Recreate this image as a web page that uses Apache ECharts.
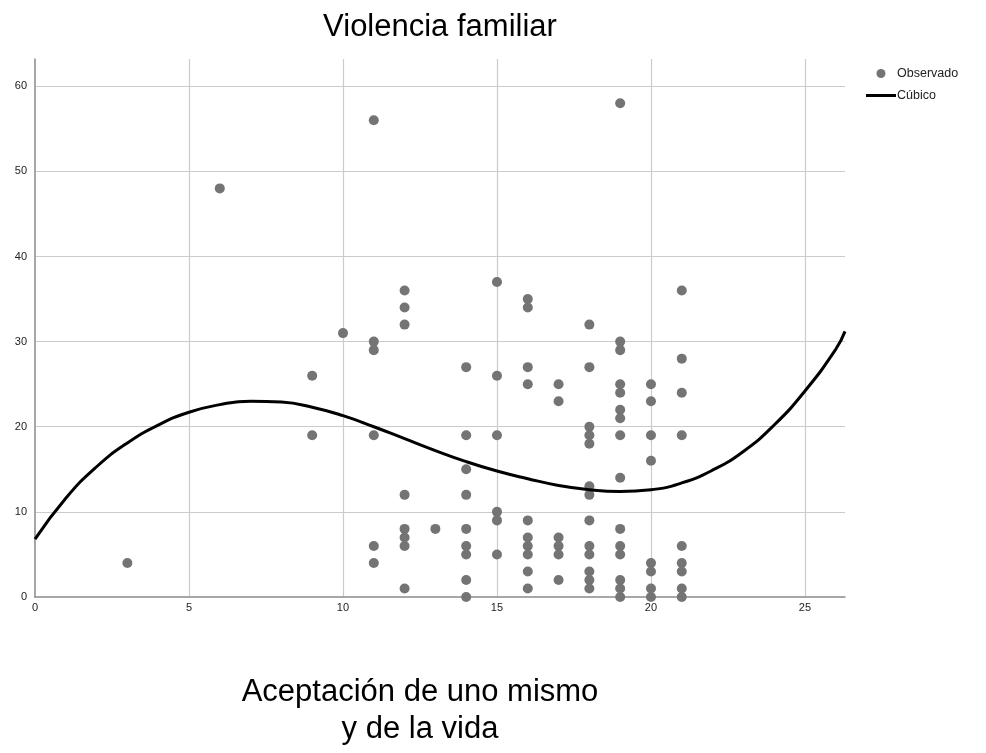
<!DOCTYPE html>
<html>
<head>
<meta charset="utf-8">
<script src="https://cdn.jsdelivr.net/npm/echarts@6/dist/echarts.min.js"></script>
<style>html,body{margin:0;padding:0;background:#fff;}#chart{width:986px;height:753px;}</style>
</head>
<body>
<div id="chart"></div>
<script>
// Observed points (x = Aceptación de uno mismo y de la vida, y = Violencia familiar)
const obsX = [3, 6, 9,9, 10,
  11,11,11,11,11,11,
  12,12,12,12,12,12,12,12,
  13,
  14,14,14,14,14,14,14,14,14,
  15,15,15,15,15,15,
  16,16,16,16,16,16,16,16,16,16,
  17,17,17,17,17,17,
  18,18,18,18,18,18,18,18,18,18,18,18,18,
  19,19,19,19,19,19,19,19,19,19,19,19,19,19,19,
  20,20,20,20,20,20,20,20,
  21,21,21,21,21,21,21,21,21];
const obsY = [4, 48, 26,19, 31,
  56,30,29,19,6,4,
  36,34,32,12,8,7,6,1,
  8,
  27,19,15,12,8,6,5,2,0,
  37,26,19,10,9,5,
  35,34,27,25,9,7,6,5,3,1,
  25,23,7,6,5,2,
  32,27,20,19,18,13,12,9,6,5,3,2,1,
  58,30,29,25,24,22,21,19,14,8,6,5,2,1,0,
  25,23,19,16,4,3,1,0,
  36,28,24,19,6,4,3,1,0];

// Cubic fit curve
const curveX = [0,1,2,3,4,5,6,7,8,9,10,11,12,13,14,15,16,17,18,19,20,21,22,23,24,25,26,26.3];
const curveY = [6.8,11.6,15.3,18.1,20.2,21.7,22.6,23.0,22.9,22.3,21.3,20.0,18.6,17.2,15.9,14.8,13.9,13.1,12.6,12.4,12.6,13.4,14.9,17.1,20.2,24.2,29.1,31.2];

const xTicks = [0, 5, 10, 15, 20, 25];
const yTicks = [0, 10, 20, 30, 40, 50, 60];

const seriesNames = ['Observado', 'Cúbico'];
const chartTitle = 'Violencia familiar';
const xTitle = 'Aceptación de uno mismo\ny de la vida';

const chart = echarts.init(document.getElementById('chart'), null, {renderer: 'canvas'});

const font = '"Liberation Sans", Arial, sans-serif';

chart.setOption({
  animation: false,
  backgroundColor: '#ffffff',
  title: [
    {text: chartTitle, left: 435, top: 7, textAlign: 'center',
     textStyle: {fontFamily: font, fontSize: 31, fontWeight: 'normal', color: '#000'}},
    {text: xTitle, left: 415, top: 669, textAlign: 'center',
     textStyle: {fontFamily: font, fontSize: 31, fontWeight: 'normal', color: '#000', lineHeight: 37}}
  ],
  legend: {
    orient: 'vertical', left: 861, top: 62, itemWidth: 30, itemHeight: 9, itemGap: 9,
    data: [
      {name: seriesNames[0], icon: 'circle'},
      {name: seriesNames[1], icon: 'path://M0,0L30,0L30,3L0,3Z'}
    ],
    textStyle: {fontFamily: font, fontSize: 12.5, color: '#222', padding: [0,0,0,-4]}
  },
  grid: {left: 35, right: 141, top: 59, bottom: 156, containLabel: false},
  xAxis: {
    type: 'value', min: xTicks[0], max: 26.3, interval: 5,
    axisLine: {show: true, lineStyle: {color: '#8a8a8a', width: 1.5}},
    axisTick: {show: false},
    axisLabel: {showMaxLabel: false, margin: 5, fontFamily: font, fontSize: 11, color: '#222'},
    splitLine: {show: true, showMinLine: false, showMaxLine: false, lineStyle: {color: '#cbcbcb', width: 1.2}}
  },
  yAxis: {
    type: 'value', min: yTicks[0], max: 63.2, interval: 10,
    axisLine: {show: true, lineStyle: {color: '#8a8a8a', width: 1.5}},
    axisTick: {show: false},
    axisLabel: {showMaxLabel: false, margin: 8, fontFamily: font, fontSize: 11, color: '#222'},
    splitLine: {show: true, showMinLine: false, showMaxLine: false, lineStyle: {color: '#cbcbcb', width: 1.2}}
  },
  series: [
    {
      name: seriesNames[0], type: 'scatter', symbol: 'circle', symbolSize: 10,
      itemStyle: {color: '#747474', opacity: 1},
      data: obsX.map((x, i) => [x, obsY[i]]),
      z: 2
    },
    {
      name: seriesNames[1], type: 'line', symbol: 'none', smooth: 0.5,
      lineStyle: {color: '#000', width: 3},
      itemStyle: {color: '#000'},
      data: curveX.map((x, i) => [x, curveY[i]]),
      z: 3
    }
  ]
});
</script>
</body>
</html>
